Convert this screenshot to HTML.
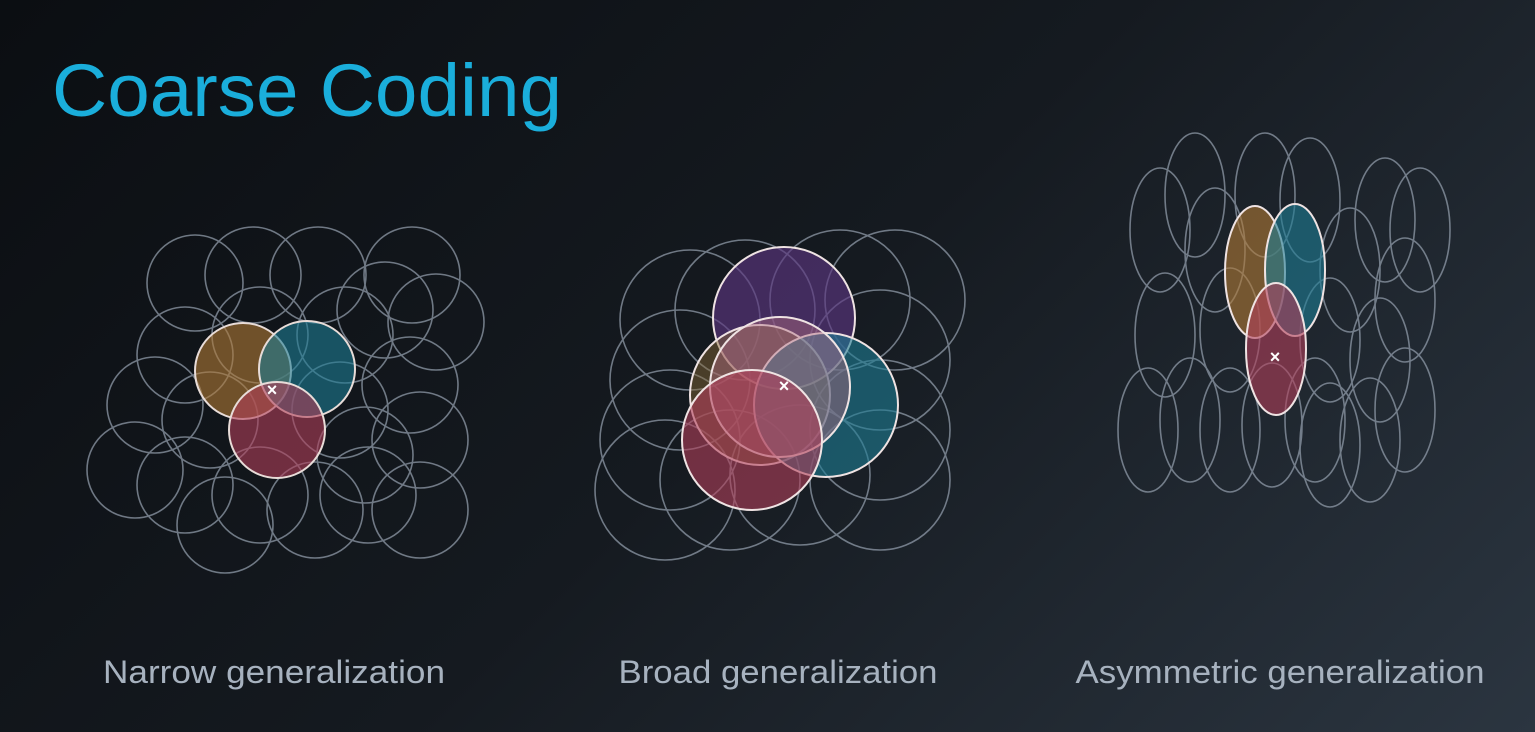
<!DOCTYPE html>
<html><head><meta charset="utf-8"><style>
html,body{margin:0;padding:0;width:1535px;height:732px;overflow:hidden;}
body{background:linear-gradient(135deg,#0b0e12 0%,#151a20 50%,#2b3540 100%);font-family:"Liberation Sans",sans-serif;}
</style></head><body>
<svg width="1535" height="732" xmlns="http://www.w3.org/2000/svg" style="position:absolute;left:0;top:0">
<text x="52" y="116" font-family="Liberation Sans, sans-serif" font-size="74" fill="#1aaedb" textLength="510" lengthAdjust="spacingAndGlyphs">Coarse Coding</text>
<g font-family="Liberation Sans, sans-serif" font-size="32" fill="#a7b2bf" text-anchor="middle">
<text x="274" y="683" textLength="342" lengthAdjust="spacingAndGlyphs">Narrow generalization</text>
<text x="778" y="683" textLength="319" lengthAdjust="spacingAndGlyphs">Broad generalization</text>
<text x="1280" y="683" textLength="409" lengthAdjust="spacingAndGlyphs">Asymmetric generalization</text>
</g>
<!-- Narrow -->
<g fill="none" stroke="#8f9aa8" stroke-width="1.6" opacity="0.75">
<circle cx="195" cy="283" r="48"/><circle cx="253" cy="275" r="48"/><circle cx="318" cy="275" r="48"/><circle cx="412" cy="275" r="48"/>
<circle cx="260" cy="335" r="48"/><circle cx="345" cy="335" r="48"/><circle cx="436" cy="322" r="48"/><circle cx="385" cy="310" r="48"/>
<circle cx="185" cy="355" r="48"/><circle cx="155" cy="405" r="48"/><circle cx="210" cy="420" r="48"/><circle cx="340" cy="410" r="48"/>
<circle cx="410" cy="385" r="48"/><circle cx="420" cy="440" r="48"/><circle cx="135" cy="470" r="48"/><circle cx="185" cy="485" r="48"/>
<circle cx="260" cy="495" r="48"/><circle cx="315" cy="510" r="48"/><circle cx="368" cy="495" r="48"/><circle cx="420" cy="510" r="48"/>
<circle cx="225" cy="525" r="48"/><circle cx="365" cy="455" r="48"/>
</g>
<g stroke="#e8dcd8" stroke-width="2">
<circle cx="243" cy="371" r="48" fill="#b07a35" fill-opacity="0.6"/>
<circle cx="307" cy="369" r="48" fill="#1e7d95" fill-opacity="0.6"/>
<circle cx="277" cy="430" r="48" fill="#b0405a" fill-opacity="0.6"/>
</g>
<text x="272" y="396" font-size="18" fill="#fff" text-anchor="middle" font-weight="bold">×</text>
<!-- Broad -->
<g fill="none" stroke="#8f9aa8" stroke-width="1.6" opacity="0.75">
<circle cx="690" cy="320" r="70"/><circle cx="745" cy="310" r="70"/><circle cx="895" cy="300" r="70"/><circle cx="680" cy="380" r="70"/>
<circle cx="880" cy="360" r="70"/><circle cx="670" cy="440" r="70"/><circle cx="665" cy="490" r="70"/><circle cx="880" cy="430" r="70"/>
<circle cx="880" cy="480" r="70"/><circle cx="730" cy="480" r="70"/><circle cx="800" cy="475" r="70"/><circle cx="840" cy="300" r="70"/>
</g>
<g stroke="#efe3e3" stroke-width="2">
<circle cx="784" cy="318" r="71" fill="#5a3580" fill-opacity="0.65"/>
<circle cx="760" cy="395" r="70" fill="#8a6a35" fill-opacity="0.45"/>
<circle cx="826" cy="405" r="72" fill="#1e7d95" fill-opacity="0.6"/>
<circle cx="780" cy="387" r="70" fill="#b06a80" fill-opacity="0.45"/>
<circle cx="752" cy="440" r="70" fill="#b0405a" fill-opacity="0.6"/>
</g>
<text x="784" y="392" font-size="18" fill="#fff" text-anchor="middle" font-weight="bold">×</text>
<!-- Asymmetric -->
<g fill="none" stroke="#8f9aa8" stroke-width="1.6" opacity="0.75">
<ellipse cx="1195" cy="195" rx="30" ry="62"/><ellipse cx="1265" cy="195" rx="30" ry="62"/><ellipse cx="1310" cy="200" rx="30" ry="62"/>
<ellipse cx="1385" cy="220" rx="30" ry="62"/><ellipse cx="1420" cy="230" rx="30" ry="62"/><ellipse cx="1160" cy="230" rx="30" ry="62"/>
<ellipse cx="1215" cy="250" rx="30" ry="62"/><ellipse cx="1350" cy="270" rx="30" ry="62"/><ellipse cx="1405" cy="300" rx="30" ry="62"/>
<ellipse cx="1165" cy="335" rx="30" ry="62"/><ellipse cx="1230" cy="330" rx="30" ry="62"/><ellipse cx="1330" cy="340" rx="30" ry="62"/>
<ellipse cx="1380" cy="360" rx="30" ry="62"/><ellipse cx="1405" cy="410" rx="30" ry="62"/><ellipse cx="1148" cy="430" rx="30" ry="62"/>
<ellipse cx="1190" cy="420" rx="30" ry="62"/><ellipse cx="1230" cy="430" rx="30" ry="62"/><ellipse cx="1272" cy="425" rx="30" ry="62"/>
<ellipse cx="1315" cy="420" rx="30" ry="62"/><ellipse cx="1330" cy="445" rx="30" ry="62"/><ellipse cx="1370" cy="440" rx="30" ry="62"/>
</g>
<g stroke="#efe3e3" stroke-width="2">
<ellipse cx="1255" cy="272" rx="30" ry="66" fill="#b07a35" fill-opacity="0.6"/>
<ellipse cx="1295" cy="270" rx="30" ry="66" fill="#1e7d95" fill-opacity="0.6"/>
<ellipse cx="1276" cy="349" rx="30" ry="66" fill="#b0405a" fill-opacity="0.6"/>
</g>
<text x="1275" y="363" font-size="18" fill="#fff" text-anchor="middle" font-weight="bold">×</text>
</svg>
</body></html>
